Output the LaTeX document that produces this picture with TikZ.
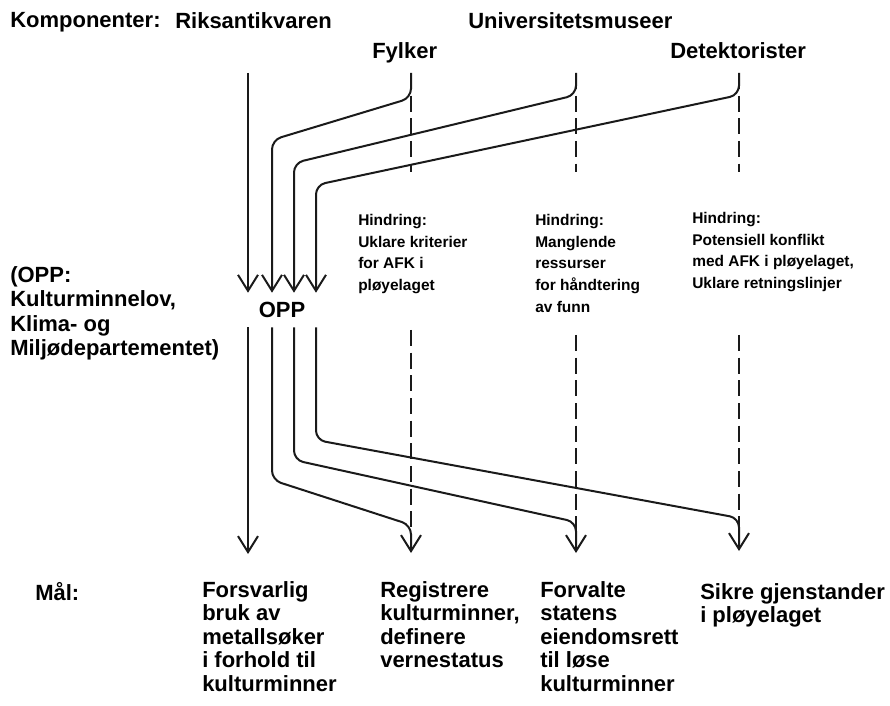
\documentclass[tikz,border=0pt]{standalone}
\usepackage{fontspec}
\setmainfont{Liberation Sans}
\usetikzlibrary{arrows.meta, positioning, calc}
\definecolor{ink}{HTML}{1A1A1A}

\begin{document}
\begin{tikzpicture}[x=0.75pt, y=-0.75pt,
  flow/.style={line width=1.5pt, ink, rounded corners=7pt, -{Straight Barb[length=12pt,width=15pt]}},
  gap/.style={line width=1.4pt, ink, dash pattern=on 12pt off 5pt},
  big/.style={font=\fontsize{16.5}{17.6}\selectfont\bfseries, inner sep=0pt, anchor=north west, align=left},
  small/.style={font=\fontsize{11.6}{16.3}\selectfont\bfseries, inner sep=0pt, anchor=north west, align=left}]
  \useasboundingbox (0,0) rectangle (890,706);

  % komponenter
  \node[big] (komp) at (10,12) {Komponenter:};
  \node[big] (rik) at (175,12) {Riksantikvaren};
  \node[big] (uni) at (468,12) {Universitetsmuseer};
  \node[big] (fyl) at (372,42) {Fylker};
  \node[big] (det) at (670,42) {Detektorister};

  \coordinate (rik-s) at (248,73);
  \coordinate (fyl-s) at (411,73);
  \coordinate (uni-s) at (576,73);
  \coordinate (det-s) at (739,73);
  \coordinate (fyl-k) at (272,140);
  \coordinate (uni-k) at (294,163);
  \coordinate (det-k) at (316,185);

  \node[font=\fontsize{16.5}{17.6}\selectfont\bfseries, inner sep=0pt, minimum height=25.5pt] (opp) at (282,310) {OPP};
  \node[big, font=\fontsize{16.5}{18.4}\selectfont\bfseries] (lov) at (10,266) {(OPP:\\Kulturminnelov,\\Klima- og\\Miljødepartementet)};

  % inn til OPP
  \draw[flow] (rik-s) -- (opp.north -| rik-s);
  \draw[flow] (fyl-s) -- (411,98) -- (fyl-k) -- (opp.north -| fyl-k);
  \draw[flow] (uni-s) -- (576,95) -- (uni-k) -- (opp.north -| uni-k);
  \draw[flow] (det-s) -- (739,95) -- (det-k) -- (opp.north -| det-k);

  \draw[gap] (fyl-s) -- (411,172);
  \draw[gap] (uni-s) -- (576,172);
  \draw[gap] (det-s) -- (739,172);

  % hindringer
  \node[small] (h1) at (358,214) {Hindring:\\Uklare kriterier\\for AFK i\\pløyelaget};
  \node[small] (h2) at (535,214) {Hindring:\\Manglende\\ressurser\\for håndtering\\av funn};
  \node[small] (h3) at (692,212) {Hindring:\\Potensiell konflikt\\med AFK i pløyelaget,\\Uklare retningslinjer};

  \draw[gap] (411,330) -- (411,535);
  \draw[gap] (576,335) -- (576,535);
  \draw[gap] (739,335) -- (739,530);

  % ut fra OPP
  \coordinate (mal1) at (248,554);
  \coordinate (mal2) at (411,553);
  \coordinate (mal3) at (576,553);
  \coordinate (mal4) at (739,551);
  \draw[flow] (opp.south -| rik-s) -- (mal1);
  \draw[flow] (opp.south -| fyl-k) -- (272,480) -- (411,525) -- (mal2);
  \draw[flow] (opp.south -| uni-k) -- (294,460) -- (576,522) -- (mal3);
  \draw[flow] (opp.south -| det-k) -- (316,440) -- (739,518) -- (mal4);

  % mål
  \node[big] (mal) at (35,582) {Mål:};
  \node[big] (g1) at (202,581) {Forsvarlig\\bruk av\\metallsøker\\i forhold til\\kulturminner};
  \node[big] (g2) at (380,581) {Registrere\\kulturminner,\\definere\\vernestatus};
  \node[big] (g3) at (540,581) {Forvalte\\statens\\eiendomsrett\\til løse\\kulturminner};
  \node[big] (g4) at (700,583) {Sikre gjenstander\\i pløyelaget};
\end{tikzpicture}
\end{document}
